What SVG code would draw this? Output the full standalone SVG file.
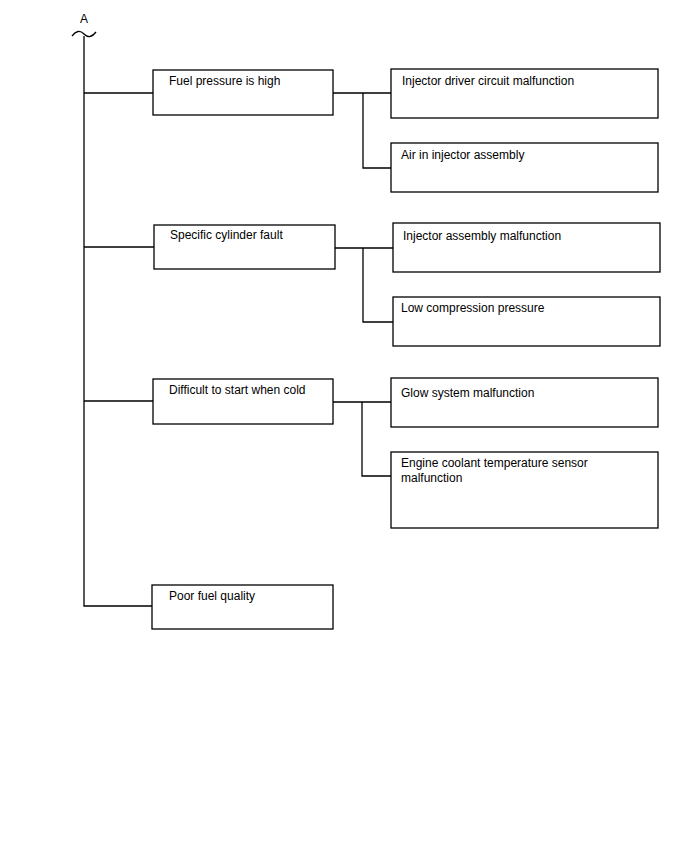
<svg xmlns="http://www.w3.org/2000/svg" width="688" height="852" viewBox="0 0 688 852">
<style>
.box{fill:#fff;stroke:#000;stroke-width:1.3}
.ln{fill:none;stroke:#000;stroke-width:1.3}
text{font-family:"Liberation Sans",Arial,sans-serif;font-size:12px;fill:#000}
</style>
<rect width="688" height="852" fill="#fff"/>
<g id="connectors">
<path class="ln" d="M84,36 V606 H152"/>
<path class="ln" d="M72,36 Q78,28 84,34 Q90,40 96,32"/>
<path class="ln" d="M84,93 H153"/>
<path class="ln" d="M84,247 H154"/>
<path class="ln" d="M84,401 H153"/>
<path class="ln" d="M333,93 H391 M363,93 V168 H391"/>
<path class="ln" d="M335,248 H393 M363,248 V322 H393"/>
<path class="ln" d="M333,402 H391 M362,402 V476 H391"/>
</g>
<g id="label-A"><text x="84" y="23" text-anchor="middle" font-size="11">A</text></g>
<g id="n1"><rect class="box" x="153" y="70" width="180" height="45"/><text x="169" y="85">Fuel pressure is high</text></g>
<g id="n2"><rect class="box" x="154" y="225" width="181" height="44"/><text x="170" y="239">Specific cylinder fault</text></g>
<g id="n3"><rect class="box" x="153" y="379" width="180" height="45"/><text x="169" y="394">Difficult to start when cold</text></g>
<g id="n4"><rect class="box" x="152" y="585" width="181" height="44"/><text x="169" y="600">Poor fuel quality</text></g>
<g id="r1"><rect class="box" x="391" y="69" width="267" height="49"/><text x="402" y="85">Injector driver circuit malfunction</text></g>
<g id="r2"><rect class="box" x="391" y="143" width="267" height="49"/><text x="401" y="159">Air in injector assembly</text></g>
<g id="r3"><rect class="box" x="393" y="223" width="267" height="49"/><text x="403" y="240">Injector assembly malfunction</text></g>
<g id="r4"><rect class="box" x="393" y="297" width="267" height="49"/><text x="401" y="312">Low compression pressure</text></g>
<g id="r5"><rect class="box" x="391" y="378" width="267" height="49"/><text x="401" y="397">Glow system malfunction</text></g>
<g id="r6"><rect class="box" x="391" y="452" width="267" height="76"/><text x="401" y="467">Engine coolant temperature sensor</text><text x="401" y="482">malfunction</text></g>
</svg>
